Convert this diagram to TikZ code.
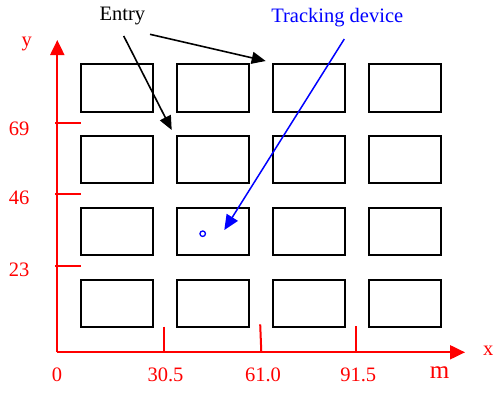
\documentclass[tikz,border=0pt]{standalone}
\usepackage{fontspec}
\setmainfont{Liberation Serif}
\usetikzlibrary{arrows.meta}
\begin{document}
\begin{tikzpicture}[x=1pt,y=-1pt,
  lot/.style={draw=black,line width=2pt,minimum width=72pt,minimum height=47.5pt,inner sep=0pt,outer sep=0pt},
  lbl/.style={font=\fontsize{20.5}{24}\selectfont,inner sep=0pt,anchor=base},
  redlbl/.style={lbl,text=red},
  axis/.style={draw=red,line width=2pt,-{Triangle[length=15pt,width=14pt]}},
  tick/.style={draw=red,line width=2pt},
  entryarrow/.style={draw=black,line width=1.6pt,-{Triangle[length=14pt,width=12pt]}},
  trackarrow/.style={draw=blue,line width=1.5pt,-{Triangle[length=15pt,width=13pt]}}]
\useasboundingbox (0,0) rectangle (493,392);
% lots
\foreach \c/\x in {1/117,2/213,3/309,4/405}{
  \foreach \r/\y in {1/88,2/159.7,3/231.7,4/303.7}{
    \node[lot] (r\r\c) at (\x,\y) {};
  }
}
% axes
\coordinate (O) at (57.3,352.3);
\coordinate (ytip) at (57.3,40);
\coordinate (xtip) at (465,352.3);
\draw[axis] (O) -- (ytip);
\draw[axis] (O) -- (xtip);
% y ticks
\foreach \n/\y in {a/123.3,b/194,c/265.7}{
  \coordinate (yt\n1) at (55,\y);
  \coordinate (yt\n2) at (80.7,\y);
  \draw[tick] (yt\n1) -- (yt\n2);
}
% x ticks
\coordinate (xta1) at (164.3,326.7); \coordinate (xta2) at (164.3,352.3);
\coordinate (xtb1) at (260.2,324.3); \coordinate (xtb2) at (261.3,352.3);
\coordinate (xtc1) at (356.3,326);   \coordinate (xtc2) at (356.3,352.3);
\draw[tick] (xta1) -- (xta2);
\draw[tick] (xtb1) -- (xtb2);
\draw[tick] (xtc1) -- (xtc2);
% axis labels
\node[redlbl] (ylab) at (26.7,46) {y};
\node[redlbl] (l69) at (19.2,135) {69};
\node[redlbl] (l46) at (19.2,204) {46};
\node[redlbl] (l23) at (19.2,276) {23};
\node[redlbl] (l0) at (57,381.7) {0};
\node[redlbl] (l305) at (165.5,381.7) {30.5};
\node[redlbl] (l610) at (263,381.7) {61.0};
\node[redlbl] (l915) at (358.3,381.7) {91.5};
\node[redlbl,font=\fontsize{25}{28}\selectfont] (mlab) at (439.7,378.3) {m};
\node[redlbl] (xlab) at (488.3,355.7) {x};
% Entry
\node[lbl] (entry) at (122.3,20.7) {Entry};
\coordinate (ea1) at (123.7,36);
\coordinate (ea2) at (171.7,130);
\coordinate (eb1) at (150,34.3);
\coordinate (eb2) at (265.7,61);
\draw[entryarrow] (ea1) -- (ea2);
\draw[entryarrow] (eb1) -- (eb2);
% Tracking device
\node[lbl,text=blue] (track) at (337.3,22.3) {Tracking device};
\coordinate (ta1) at (344.3,39);
\coordinate (ta2) at (224.3,230);
\draw[trackarrow] (ta1) -- (ta2);
\node[draw=blue,line width=1.3pt,circle,minimum size=5.5pt,inner sep=0pt] (dev) at (202.7,233.7) {};
\end{tikzpicture}
\end{document}
